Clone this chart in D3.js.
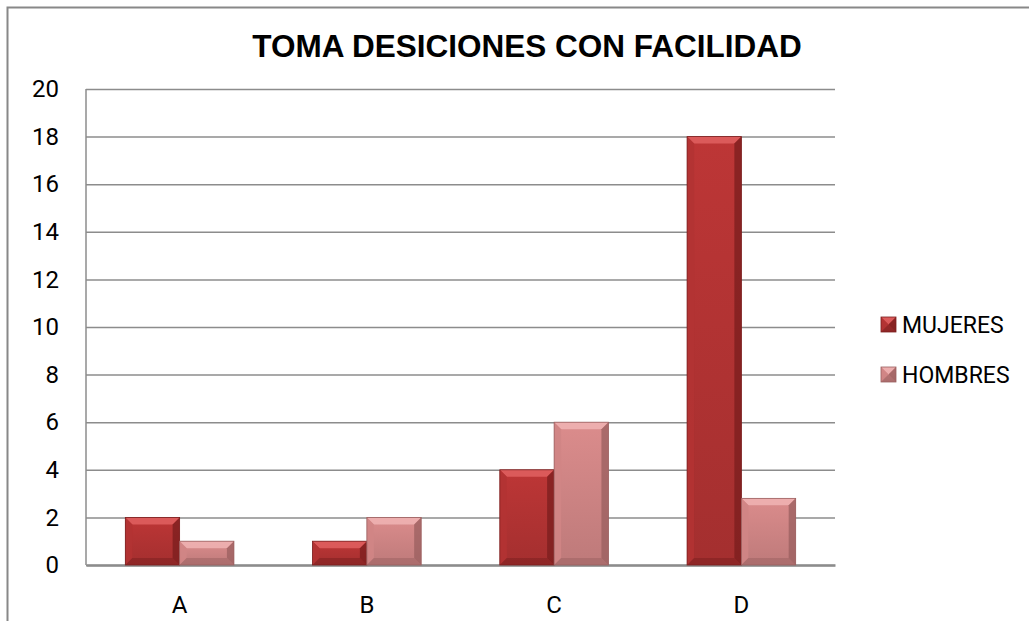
<!DOCTYPE html>
<html>
<head>
<meta charset="utf-8">
<script src="https://cdn.jsdelivr.net/npm/d3@7"></script>
<style>
  body { margin: 0; background: #fff; }
  svg text { font-family: Roboto, "Liberation Sans", sans-serif; }
  svg text.title { font-family: "Liberation Sans", Arial, sans-serif; }
</style>
</head>
<body>
<svg id="chart" width="1029" height="621"></svg>
<script>
const categories = ['A', 'B', 'C', 'D'];
const seriesNames = ['MUJERES', 'HOMBRES'];
const mujeres = [2, 1, 4, 18];
const hombres = [1, 2, 6, 2.8];
const yTicks = [0, 2, 4, 6, 8, 10, 12, 14, 16, 18, 20];

const colors = {
  MUJERES: { base: '#b33333', light: '#e06060', dark: '#7a1e1e' },
  HOMBRES: { base: '#d08585', light: '#f0b4b4', dark: '#9a5f5f' }
};

const margin = { top: 89, right: 194, bottom: 56, left: 86 };
const width = 1029 - margin.left - margin.right;
const height = 621 - margin.top - margin.bottom;

const svg = d3.select('#chart');

// outer chart frame (only top and left visible)
svg.append('path')
  .attr('d', 'M7.5,621 L7.5,7.5 L1029,7.5')
  .attr('fill', 'none')
  .attr('stroke', '#888')
  .attr('stroke-width', 2);

svg.append('text')
  .attr('class', 'title')
  .attr('x', 527)
  .attr('y', 57)
  .attr('text-anchor', 'middle')
  .style('font-size', '31.5px')
  .style('font-weight', 'bold')
  .text('TOMA DESICIONES CON FACILIDAD');

const g = svg.append('g').attr('transform', `translate(${margin.left},${margin.top})`);

const x0 = d3.scaleBand().domain(categories).range([0, width]).paddingInner(0.42).paddingOuter(0.21);
const x1 = d3.scaleBand().domain(seriesNames).range([0, x0.bandwidth()]);
const y = d3.scaleLinear().domain([0, 20]).range([height, 0]);

// gridlines
g.append('g')
  .call(d3.axisLeft(y).tickValues(yTicks).tickSize(-width).tickFormat(''))
  .call(s => s.select('.domain').remove())
  .selectAll('line')
  .attr('stroke', '#8c8c8c')
  .attr('stroke-width', 1.5);

// y axis labels
g.append('g')
  .call(d3.axisLeft(y).tickValues(yTicks).tickSize(0).tickPadding(27))
  .call(s => s.select('.domain').remove())
  .call(s => s.selectAll('text').attr('fill', '#000').style('font-size', '24px'));

g.append('line')
  .attr('x1', 0).attr('x2', 0).attr('y1', 0).attr('y2', height)
  .attr('stroke', '#8c8c8c').attr('stroke-width', 1.5);

// x axis
g.append('g')
  .attr('transform', `translate(0,${height})`)
  .call(d3.axisBottom(x0).tickSize(0).tickPadding(31))
  .call(s => s.select('.domain').attr('stroke', '#8c8c8c').attr('stroke-width', 2.5))
  .call(s => s.selectAll('text').attr('fill', '#000').style('font-size', '24px'));

const defs = svg.append('defs');
seriesNames.forEach(name => {
  const c = colors[name];
  const grad = defs.append('linearGradient')
    .attr('id', 'grad-' + name)
    .attr('x1', 0).attr('y1', 0).attr('x2', 0).attr('y2', 1);
  grad.append('stop').attr('offset', '0%').attr('stop-color', d3.color(c.base).brighter(0.15));
  grad.append('stop').attr('offset', '100%').attr('stop-color', d3.color(c.base).darker(0.25));
});

const rows = categories.map((cat, i) => ({ cat, MUJERES: mujeres[i], HOMBRES: hombres[i] }));

function bevelBar(sel, bx, by, bw, bh, name) {
  const c = colors[name];
  const b = Math.min(7, bh / 2, bw / 2);
  sel.append('rect')
    .attr('x', bx).attr('y', by).attr('width', bw).attr('height', bh)
    .attr('fill', `url(#grad-${name})`);
  // top bevel
  sel.append('polygon')
    .attr('points', [[bx, by], [bx + bw, by], [bx + bw - b, by + b], [bx + b, by + b]].join(' '))
    .attr('fill', c.light).attr('opacity', 0.85);
  // left bevel
  sel.append('polygon')
    .attr('points', [[bx, by], [bx + b, by + b], [bx + b, by + bh - b], [bx, by + bh]].join(' '))
    .attr('fill', c.base).attr('opacity', 0.9);
  // right bevel
  sel.append('polygon')
    .attr('points', [[bx + bw, by], [bx + bw, by + bh], [bx + bw - b, by + bh - b], [bx + bw - b, by + b]].join(' '))
    .attr('fill', c.dark).attr('opacity', 0.75);
  // bottom bevel
  sel.append('polygon')
    .attr('points', [[bx, by + bh], [bx + b, by + bh - b], [bx + bw - b, by + bh - b], [bx + bw, by + bh]].join(' '))
    .attr('fill', c.dark).attr('opacity', 0.5);
  sel.append('rect')
    .attr('x', bx).attr('y', by).attr('width', bw).attr('height', bh)
    .attr('fill', 'none').attr('stroke', c.dark).attr('stroke-width', 0.8);
}

const groups = g.selectAll('.cat')
  .data(rows)
  .enter()
  .append('g')
  .attr('class', 'cat')
  .attr('transform', d => `translate(${x0(d.cat)},0)`);

groups.each(function(d) {
  const sel = d3.select(this);
  seriesNames.forEach(name => {
    const bx = x1(name);
    const by = y(d[name]);
    bevelBar(sel.append('g'), bx, by, x1.bandwidth(), height - by, name);
  });
});

// legend
const legend = svg.append('g').attr('transform', 'translate(881,317)');
seriesNames.forEach((name, i) => {
  const item = legend.append('g').attr('transform', `translate(0,${i * 50})`);
  bevelBar(item, 0, 0, 15, 15, name);
  item.append('text')
    .attr('x', 21)
    .attr('y', 16)
    .style('font-size', '23px')
    .text(name);
});
</script>
</body>
</html>
